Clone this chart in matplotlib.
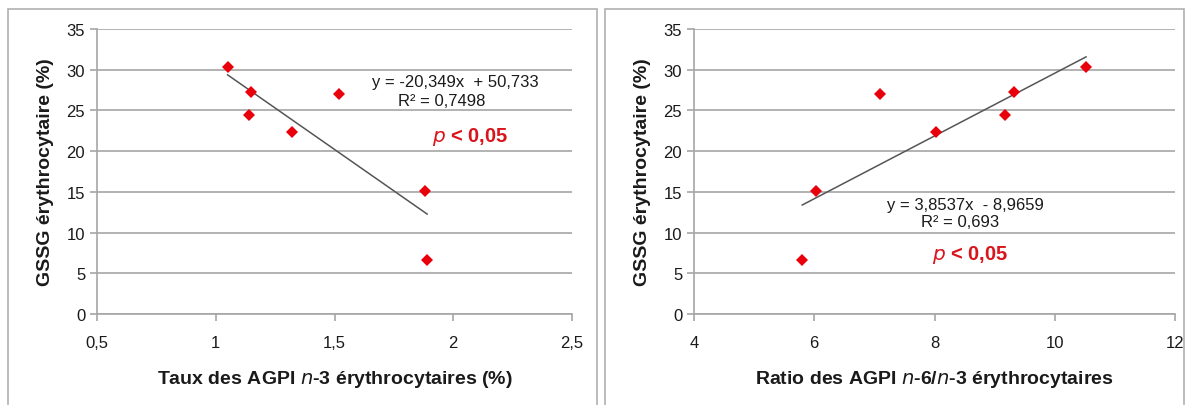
import matplotlib
matplotlib.use("Agg")
import matplotlib.pyplot as plt
from matplotlib.patches import Rectangle

# Data
n3_rate = [1.05, 1.15, 1.14, 1.32, 1.52, 1.88, 1.89]
gssg = [30.3, 27.3, 24.4, 22.4, 27.0, 15.1, 6.6]
ratio_n6_n3 = [10.52, 9.33, 9.17, 8.02, 7.10, 6.03, 5.80]

fit_left = (-20.349, 50.733)
fit_right = (3.8537, -8.9659)

left_xticks = [0.5, 1, 1.5, 2, 2.5]
left_xticklabels = ["0,5", "1", "1,5", "2", "2,5"]
right_xticks = [4, 6, 8, 10, 12]
right_xticklabels = ["4", "6", "8", "10", "12"]
yticks = [0, 5, 10, 15, 20, 25, 30, 35]

W, H = 1187, 406
fig = plt.figure(figsize=(W / 100, H / 100), dpi=100)
plt.rcParams['font.family'] = ['Liberation Sans', 'DejaVu Sans']

def px(x0, y0, x1, y1):
    return [x0 / W, 1 - y1 / H, (x1 - x0) / W, (y1 - y0) / H]

# panel borders
for (bx0, bx1) in [(8, 597), (605, 1184)]:
    fig.add_artist(Rectangle((bx0 / W, -0.02), (bx1 - bx0) / W, 1 - 10 / H + 0.02,
                             transform=fig.transFigure, fill=False,
                             edgecolor="#b0b0b0", lw=1.2))

def style(ax, xlim, xt, xtl, xlabel_parts):
    ax.set_xlim(*xlim)
    ax.set_ylim(0, 35)
    ax.set_xticks(xt)
    ax.set_xticklabels(xtl)
    ax.set_yticks(yticks)
    ax.yaxis.grid(True, color="#a6a6a6", lw=1.2)
    ax.set_axisbelow(True)
    for s in ["top", "right"]:
        ax.spines[s].set_visible(False)
    for s in ["left", "bottom"]:
        ax.spines[s].set_color("#a6a6a6")
        ax.spines[s].set_linewidth(1.2)
    ax.tick_params(axis="both", colors="#a6a6a6", length=5, width=1.2,
                   labelcolor="#1a1a1a", labelsize=12)
    ax.tick_params(axis="x", pad=10)
    ax.set_ylabel("GSSG érythrocytaire (%)", fontsize=14, fontweight="bold",
                  color="#1a1a1a", labelpad=9)
    ax.set_xlabel(xlabel_parts, fontsize=14, fontweight="bold", color="#1a1a1a",
                  labelpad=13)

# left
ax1 = fig.add_axes(px(97, 30, 572, 315))
style(ax1, (0.5, 2.5), left_xticks, left_xticklabels,
      r"Taux des AGPI $\bf{\it{n}}$-3 érythrocytaires (%)")
xs = [min(n3_rate), max(n3_rate)]
ax1.plot(xs, [fit_left[0] * x + fit_left[1] for x in xs], color="#555555", lw=1.1)
ax1.plot(n3_rate, gssg, "D", color="#e8000b", markersize=6.5, markeredgewidth=0)
ax1.text(2.01, 28.6, "y = -20,349x  + 50,733", ha="center", va="center",
         fontsize=12, color="#1a1a1a")
ax1.text(1.95, 26.2, "R² = 0,7498", ha="center", va="center", fontsize=12, color="#1a1a1a")
ax1.text(2.07, 21.9, r"$\bf{\it{p}}$ < 0,05", ha="center", va="center", fontsize=14.5,
         color="#d9141b", fontweight="bold")

# right
ax2 = fig.add_axes(px(694, 30, 1175, 315))
style(ax2, (4, 12), right_xticks, right_xticklabels,
      r"Ratio des AGPI $\bf{\it{n}}$-6/$\bf{\it{n}}$-3 érythrocytaires")
xs = [min(ratio_n6_n3), max(ratio_n6_n3)]
ax2.plot(xs, [fit_right[0] * x + fit_right[1] for x in xs], color="#555555", lw=1.1)
ax2.plot(ratio_n6_n3, gssg, "D", color="#e8000b", markersize=6.5, markeredgewidth=0)
ax2.text(8.51, 13.5, "y = 3,8537x  - 8,9659", ha="center", va="center",
         fontsize=12, color="#1a1a1a")
ax2.text(8.42, 11.4, "R² = 0,693", ha="center", va="center", fontsize=12, color="#1a1a1a")
ax2.text(8.59, 7.4, r"$\bf{\it{p}}$ < 0,05", ha="center", va="center", fontsize=14.5,
         color="#d9141b", fontweight="bold")

fig.savefig("out.png", dpi=100)
